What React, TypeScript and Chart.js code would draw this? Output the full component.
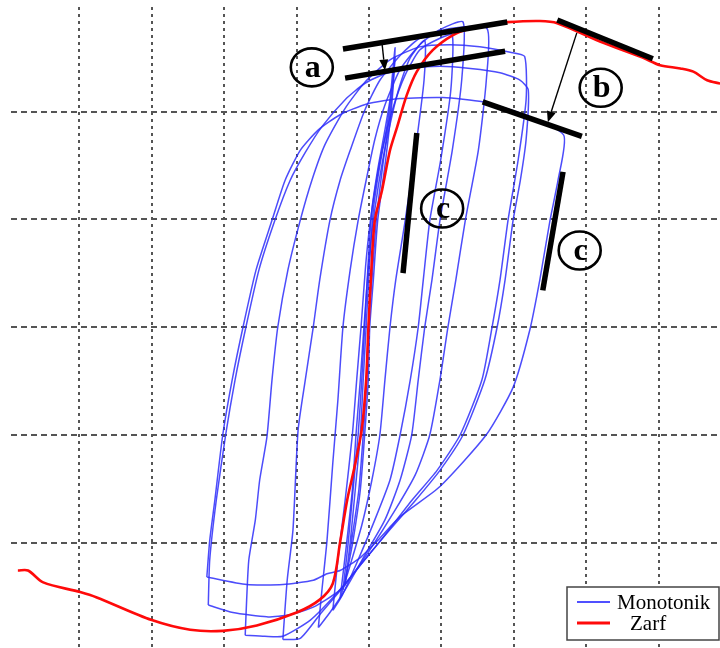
import React, { useEffect, useRef } from "react";
import { Chart, registerables } from "chart.js";

Chart.register(...registerables);

// ---- scale layout (grid lines at integer steps, no tick labels) ----
const xTicks = [-4, -3, -2, -1, 0, 1, 2, 3, 4];
const yTicks = [-2, -1, 0, 1, 2];
const xRange = [-4.945, 4.848];
const yRange = [-2.979, 2.97];

const seriesLabels = ["Monotonik", "Zarf"];

// ---- Zarf (envelope) curve ----
const zarf: number[][] = [
  [-4.85, -2.26], [-4.71, -2.26], [-4.5, -2.37], [-3.99, -2.46], [-3.76, -2.51],
  [-3.0, -2.72], [-2.47, -2.81], [-2.02, -2.82], [-1.55, -2.77], [-1.0, -2.65],
  [-0.68, -2.53], [-0.5, -2.38], [-0.4, -2.0], [-0.3, -1.6], [-0.2, -1.3],
  [-0.1, -0.95], [-0.04, -0.5], [-0.01, -0.03], [0.03, 0.5], [0.08, 0.99],
  [0.18, 1.27], [0.29, 1.64], [0.39, 1.86], [0.52, 2.15], [0.66, 2.37],
  [0.88, 2.57], [1.16, 2.71], [1.4, 2.77], [1.67, 2.81], [1.91, 2.83],
  [2.36, 2.84], [2.6, 2.82], [3.19, 2.65], [3.78, 2.5], [4.02, 2.43],
  [4.3, 2.4], [4.48, 2.37], [4.67, 2.29], [4.85, 2.26],
];

// ---- Monotonik cycles ----
const loop1: number[][] = [
  [-2.24, -2.32], [-2.2, -1.98], [-2.13, -1.61], [-2.02, -1.0], [-1.89, -0.49],
  [-1.74, 0.0], [-1.56, 0.53], [-1.34, 0.99], [-1.16, 1.36], [-0.95, 1.64],
  [-0.7, 1.83], [-0.4, 1.97], [-0.03, 2.07], [0.43, 2.12], [1.02, 2.13],
  [1.57, 2.09], [2.15, 1.97], [2.69, 1.78], [2.61, 1.36], [2.5, 0.99],
  [2.36, 0.44], [2.22, -0.03], [1.99, -0.56], [1.62, -1.0], [0.98, -1.48],
  [0.43, -1.76], [0.12, -1.98], [-0.12, -2.14], [-0.4, -2.26], [-0.58, -2.29],
  [-0.77, -2.35], [-1.19, -2.39], [-1.69, -2.39], [-2.24, -2.32],
];
const loop2: number[][] = [
  [-2.22, -2.58], [-2.2, -2.16], [-2.11, -1.61], [-1.98, -1.0], [-1.85, -0.49],
  [-1.7, 0.0], [-1.52, 0.53], [-1.3, 0.99], [-1.09, 1.36], [-0.88, 1.62],
  [-0.65, 1.86], [-0.33, 2.11], [-0.06, 2.26], [0.22, 2.35], [0.57, 2.4],
  [0.98, 2.42], [1.4, 2.4], [1.81, 2.36], [2.09, 2.29], [2.2, 2.2],
  [2.17, 1.74], [2.09, 1.36], [1.99, 0.99], [1.88, 0.44], [1.77, 0.0],
  [1.6, -0.49], [1.3, -1.0], [0.98, -1.33], [0.64, -1.61], [0.29, -1.88],
  [-0.06, -2.16], [-0.4, -2.44], [-0.77, -2.6], [-1.09, -2.67], [-1.41, -2.69],
  [-1.88, -2.65], [-2.22, -2.58],
];
const loop3: number[][] = [
  [-1.71, -2.86], [-1.69, -2.53], [-1.66, -2.16], [-1.57, -1.79], [-1.51, -1.42],
  [-1.41, -1.02], [-1.34, -0.49], [-1.26, 0.0], [-1.12, 0.53], [-0.95, 0.99],
  [-0.79, 1.36], [-0.61, 1.69], [-0.33, 2.03], [-0.06, 2.27], [0.29, 2.48],
  [0.7, 2.6], [1.12, 2.62], [1.53, 2.6], [1.95, 2.55], [2.15, 2.51],
  [2.17, 2.11], [2.06, 1.55], [1.92, 0.99], [1.81, 0.44], [1.7, 0.0],
  [1.56, -0.49], [1.26, -1.0], [0.94, -1.33], [0.59, -1.61], [0.22, -1.93],
  [-0.12, -2.21], [-0.47, -2.49], [-0.81, -2.72], [-1.19, -2.87], [-1.44, -2.87],
  [-1.71, -2.86],
];
const loop4: number[][] = [
  [-1.19, -2.9], [-1.13, -2.35], [-1.05, -1.88], [-0.98, -0.96], [-0.88, -0.49],
  [-0.77, 0.0], [-0.68, 0.44], [-0.54, 0.99], [-0.4, 1.36], [-0.26, 1.64],
  [-0.06, 2.01], [0.15, 2.29], [0.43, 2.52], [0.7, 2.68], [1.12, 2.77],
  [1.63, 2.77], [1.62, 2.29], [1.51, 1.64], [1.33, 0.99], [1.2, 0.44],
  [1.09, 0.0], [0.98, -0.49], [0.84, -1.0], [0.64, -1.37], [0.36, -1.7],
  [0.01, -2.07], [-0.33, -2.39], [-0.68, -2.67], [-0.95, -2.89], [-1.19, -2.9],
];
const loop5: number[][] = [
  [-0.7, -2.79], [-0.65, -2.44], [-0.58, -1.98], [-0.5, -1.26], [-0.43, -0.68],
  [-0.36, 0.0], [-0.26, 0.53], [-0.15, 0.99], [-0.04, 1.36], [0.08, 1.74],
  [0.22, 2.06], [0.43, 2.39], [0.7, 2.62], [0.98, 2.76], [1.3, 2.83],
  [1.28, 2.29], [1.15, 1.64], [0.98, 0.99], [0.87, 0.44], [0.77, 0.0],
  [0.68, -0.49], [0.59, -1.0], [0.43, -1.42], [0.22, -1.79], [-0.06, -2.12],
  [-0.33, -2.44], [-0.54, -2.65], [-0.7, -2.79],
];
const loop6: number[][] = [
  [-0.5, -2.63], [-0.43, -2.16], [-0.33, -1.61], [-0.23, -1.0], [-0.17, -0.49],
  [-0.11, 0.0], [-0.04, 0.62], [0.04, 1.09], [0.18, 1.64], [0.32, 2.01],
  [0.5, 2.34], [0.7, 2.57], [0.98, 2.68], [1.15, 2.71], [1.13, 2.2],
  [0.99, 1.55], [0.84, 0.99], [0.75, 0.44], [0.68, 0.0], [0.57, -0.49],
  [0.43, -1.0], [0.29, -1.42], [0.08, -1.79], [-0.15, -2.16], [-0.37, -2.49],
  [-0.5, -2.63],
];
const loop7: number[][] = [
  [-0.4, -2.52], [-0.32, -2.07], [-0.23, -1.51], [-0.18, -1.0], [-0.12, -0.49],
  [-0.07, 0.0], [0.0, 0.62], [0.08, 1.09], [0.19, 1.55], [0.32, 1.97],
  [0.43, 2.25], [0.57, 2.5], [0.77, 2.66], [0.76, 2.29], [0.64, 1.64],
  [0.5, 0.99], [0.37, 0.44], [0.29, 0.0], [0.22, -0.49], [0.15, -1.0],
  [0.04, -1.42], [-0.1, -1.84], [-0.26, -2.21], [-0.4, -2.52],
];
const loop8: number[][] = [
  [-0.36, -2.44], [-0.29, -2.02], [-0.22, -1.51], [-0.15, -1.0], [-0.1, -0.49],
  [-0.06, 0.0], [-0.01, 0.62], [0.04, 1.09], [0.12, 1.46], [0.22, 1.83],
  [0.29, 2.11], [0.33, 2.39], [0.36, 2.59], [0.32, 2.11], [0.23, 1.55],
  [0.12, 0.99], [0.06, 0.44], [0.01, 0.0], [-0.01, -0.49], [-0.06, -1.0],
  [-0.12, -1.51], [-0.22, -1.98], [-0.3, -2.26], [-0.36, -2.44],
];
const loop9: number[][] = [
  [-0.33, -2.4], [-0.26, -2.0], [-0.19, -1.51], [-0.12, -1.0], [-0.08, -0.49],
  [-0.04, 0.0], [0.01, 0.62], [0.06, 1.09], [0.14, 1.46], [0.24, 1.83],
  [0.3, 2.11], [0.34, 2.36], [0.36, 2.5], [0.3, 2.05], [0.2, 1.55],
  [0.1, 0.99], [0.04, 0.44], [-0.01, 0.0], [-0.03, -0.49], [-0.08, -1.0],
  [-0.14, -1.51], [-0.24, -1.98], [-0.3, -2.22], [-0.33, -2.4],
];
const monotonikLoops = [loop1, loop2, loop3, loop4, loop5, loop6, loop7, loop8, loop9];

// ---- annotations (data coordinates) ----
const barLines: number[][][] = [
  [[-0.36, 2.58], [1.91, 2.83]],
  [[-0.33, 2.31], [1.88, 2.56]],
  [[2.6, 2.85], [3.92, 2.49]],
  [[1.57, 2.09], [2.94, 1.77]],
  [[0.66, 1.8], [0.47, 0.5]],
  [[2.68, 1.44], [2.4, 0.34]],
];
const arrows: number[][][] = [
  [[0.18, 2.63], [0.22, 2.38]],
  [[2.87, 2.73], [2.47, 1.9]],
];
const circleLabels = [
  { text: "a", x: -0.79, y: 2.41 },
  { text: "b", x: 3.2, y: 2.22 },
  { text: "c", x: 1.01, y: 1.1 },
  { text: "c", x: 2.91, y: 0.71 },
];

const BLUE = "rgba(45,45,250,0.85)";
const RED = "#ff0a0a";

const annotatePlugin = {
  id: "annotate",
  afterDatasetsDraw(chart: any) {
    const { ctx, chartArea } = chart;
    const xs = chart.scales.x;
    const ys = chart.scales.y;
    const px = (p: number[]) => [xs.getPixelForValue(p[0]), ys.getPixelForValue(p[1])];
    ctx.save();
    ctx.strokeStyle = "#000";
    ctx.lineCap = "butt";
    ctx.lineWidth = 5.5;
    for (const seg of barLines) {
      const a = px(seg[0]);
      const b = px(seg[1]);
      ctx.beginPath();
      ctx.moveTo(a[0], a[1]);
      ctx.lineTo(b[0], b[1]);
      ctx.stroke();
    }
    ctx.lineWidth = 1.4;
    ctx.fillStyle = "#000";
    for (const seg of arrows) {
      const a = px(seg[0]);
      const b = px(seg[1]);
      const ang = Math.atan2(b[1] - a[1], b[0] - a[0]);
      const hl = 11;
      const hw = 4.5;
      const bx = b[0] - hl * Math.cos(ang);
      const by = b[1] - hl * Math.sin(ang);
      ctx.beginPath();
      ctx.moveTo(a[0], a[1]);
      ctx.lineTo(bx, by);
      ctx.stroke();
      ctx.beginPath();
      ctx.moveTo(b[0], b[1]);
      ctx.lineTo(bx + hw * Math.sin(ang), by - hw * Math.cos(ang));
      ctx.lineTo(bx - hw * Math.sin(ang), by + hw * Math.cos(ang));
      ctx.closePath();
      ctx.fill();
    }
    ctx.lineWidth = 2.6;
    ctx.font = 'bold 32px "Liberation Serif", "Times New Roman", serif';
    ctx.textAlign = "center";
    ctx.textBaseline = "middle";
    for (const c of circleLabels) {
      const [cx, cy] = px([c.x, c.y]);
      ctx.beginPath();
      ctx.ellipse(cx, cy, 21, 19, 0, 0, Math.PI * 2);
      ctx.stroke();
      ctx.fillText(c.text, cx + 1, cy + 1);
    }
    const lx = chartArea.right - 153;
    const ly = chartArea.bottom - 61;
    ctx.fillStyle = "#fff";
    ctx.fillRect(lx, ly, 152, 53);
    ctx.strokeStyle = "#444";
    ctx.lineWidth = 1.5;
    ctx.strokeRect(lx, ly, 152, 53);
    const entries = [
      { label: seriesLabels[0], color: "rgba(80,80,255,1)", w: 2, dx: 50 },
      { label: seriesLabels[1], color: RED, w: 3, dx: 63 },
    ];
    ctx.font = '21px "Liberation Serif", "Times New Roman", serif';
    ctx.textAlign = "left";
    ctx.textBaseline = "alphabetic";
    entries.forEach((e, i) => {
      const yy = ly + 15 + i * 21;
      ctx.strokeStyle = e.color;
      ctx.lineWidth = e.w;
      ctx.beginPath();
      ctx.moveTo(lx + 10, yy);
      ctx.lineTo(lx + 43, yy);
      ctx.stroke();
      ctx.fillStyle = "#000";
      ctx.fillText(e.label, lx + e.dx, yy + 7);
    });
    ctx.restore();
  },
};

export default function App() {
  const ref = useRef<HTMLCanvasElement | null>(null);
  useEffect(() => {
    if (!ref.current) return;
    const toPts = (arr: number[][]) => arr.map((p) => ({ x: p[0], y: p[1] }));
    const datasets: any[] = [
      {
        label: seriesLabels[1],
        data: toPts(zarf),
        borderColor: RED,
        borderWidth: 2.6,
        showLine: true,
        pointRadius: 0,
        tension: 0.3,
      },
      ...monotonikLoops.map((lp, i) => ({
        label: i === 0 ? seriesLabels[0] : seriesLabels[0] + " " + (i + 1),
        data: toPts(lp),
        borderColor: BLUE,
        borderWidth: 1.5,
        showLine: true,
        pointRadius: 0,
        tension: 0.2,
      })),
    ];
    const gridOpts = (dash: number[]) => ({
      grid: { color: "#555", lineWidth: 2, drawTicks: false },
      border: { display: false, dash },
      ticks: { display: false },
    });
    const chart = new Chart(ref.current, {
      type: "scatter",
      data: { datasets },
      options: {
        responsive: false,
        animation: false,
        layout: { padding: { left: 11, top: 7, right: 0, bottom: 0 } },
        plugins: { legend: { display: false }, tooltip: { enabled: false } },
        scales: {
          x: {
            type: "linear",
            min: xRange[0],
            max: xRange[1],
            ...gridOpts([3, 4]),
            afterBuildTicks: (s: any) => {
              s.ticks = xTicks.map((v) => ({ value: v }));
            },
          },
          y: {
            type: "linear",
            min: yRange[0],
            max: yRange[1],
            ...gridOpts([6, 4]),
            afterBuildTicks: (s: any) => {
              s.ticks = yTicks.map((v) => ({ value: v }));
            },
          },
        },
      } as any,
      plugins: [annotatePlugin],
    });
    return () => chart.destroy();
  }, []);
  return (
    <div style={{ position: "absolute", left: 0, top: 0, width: 720, height: 648, background: "#fff" }}>
      <canvas ref={ref} width={720} height={648} style={{ display: "block" }} />
    </div>
  );
}
